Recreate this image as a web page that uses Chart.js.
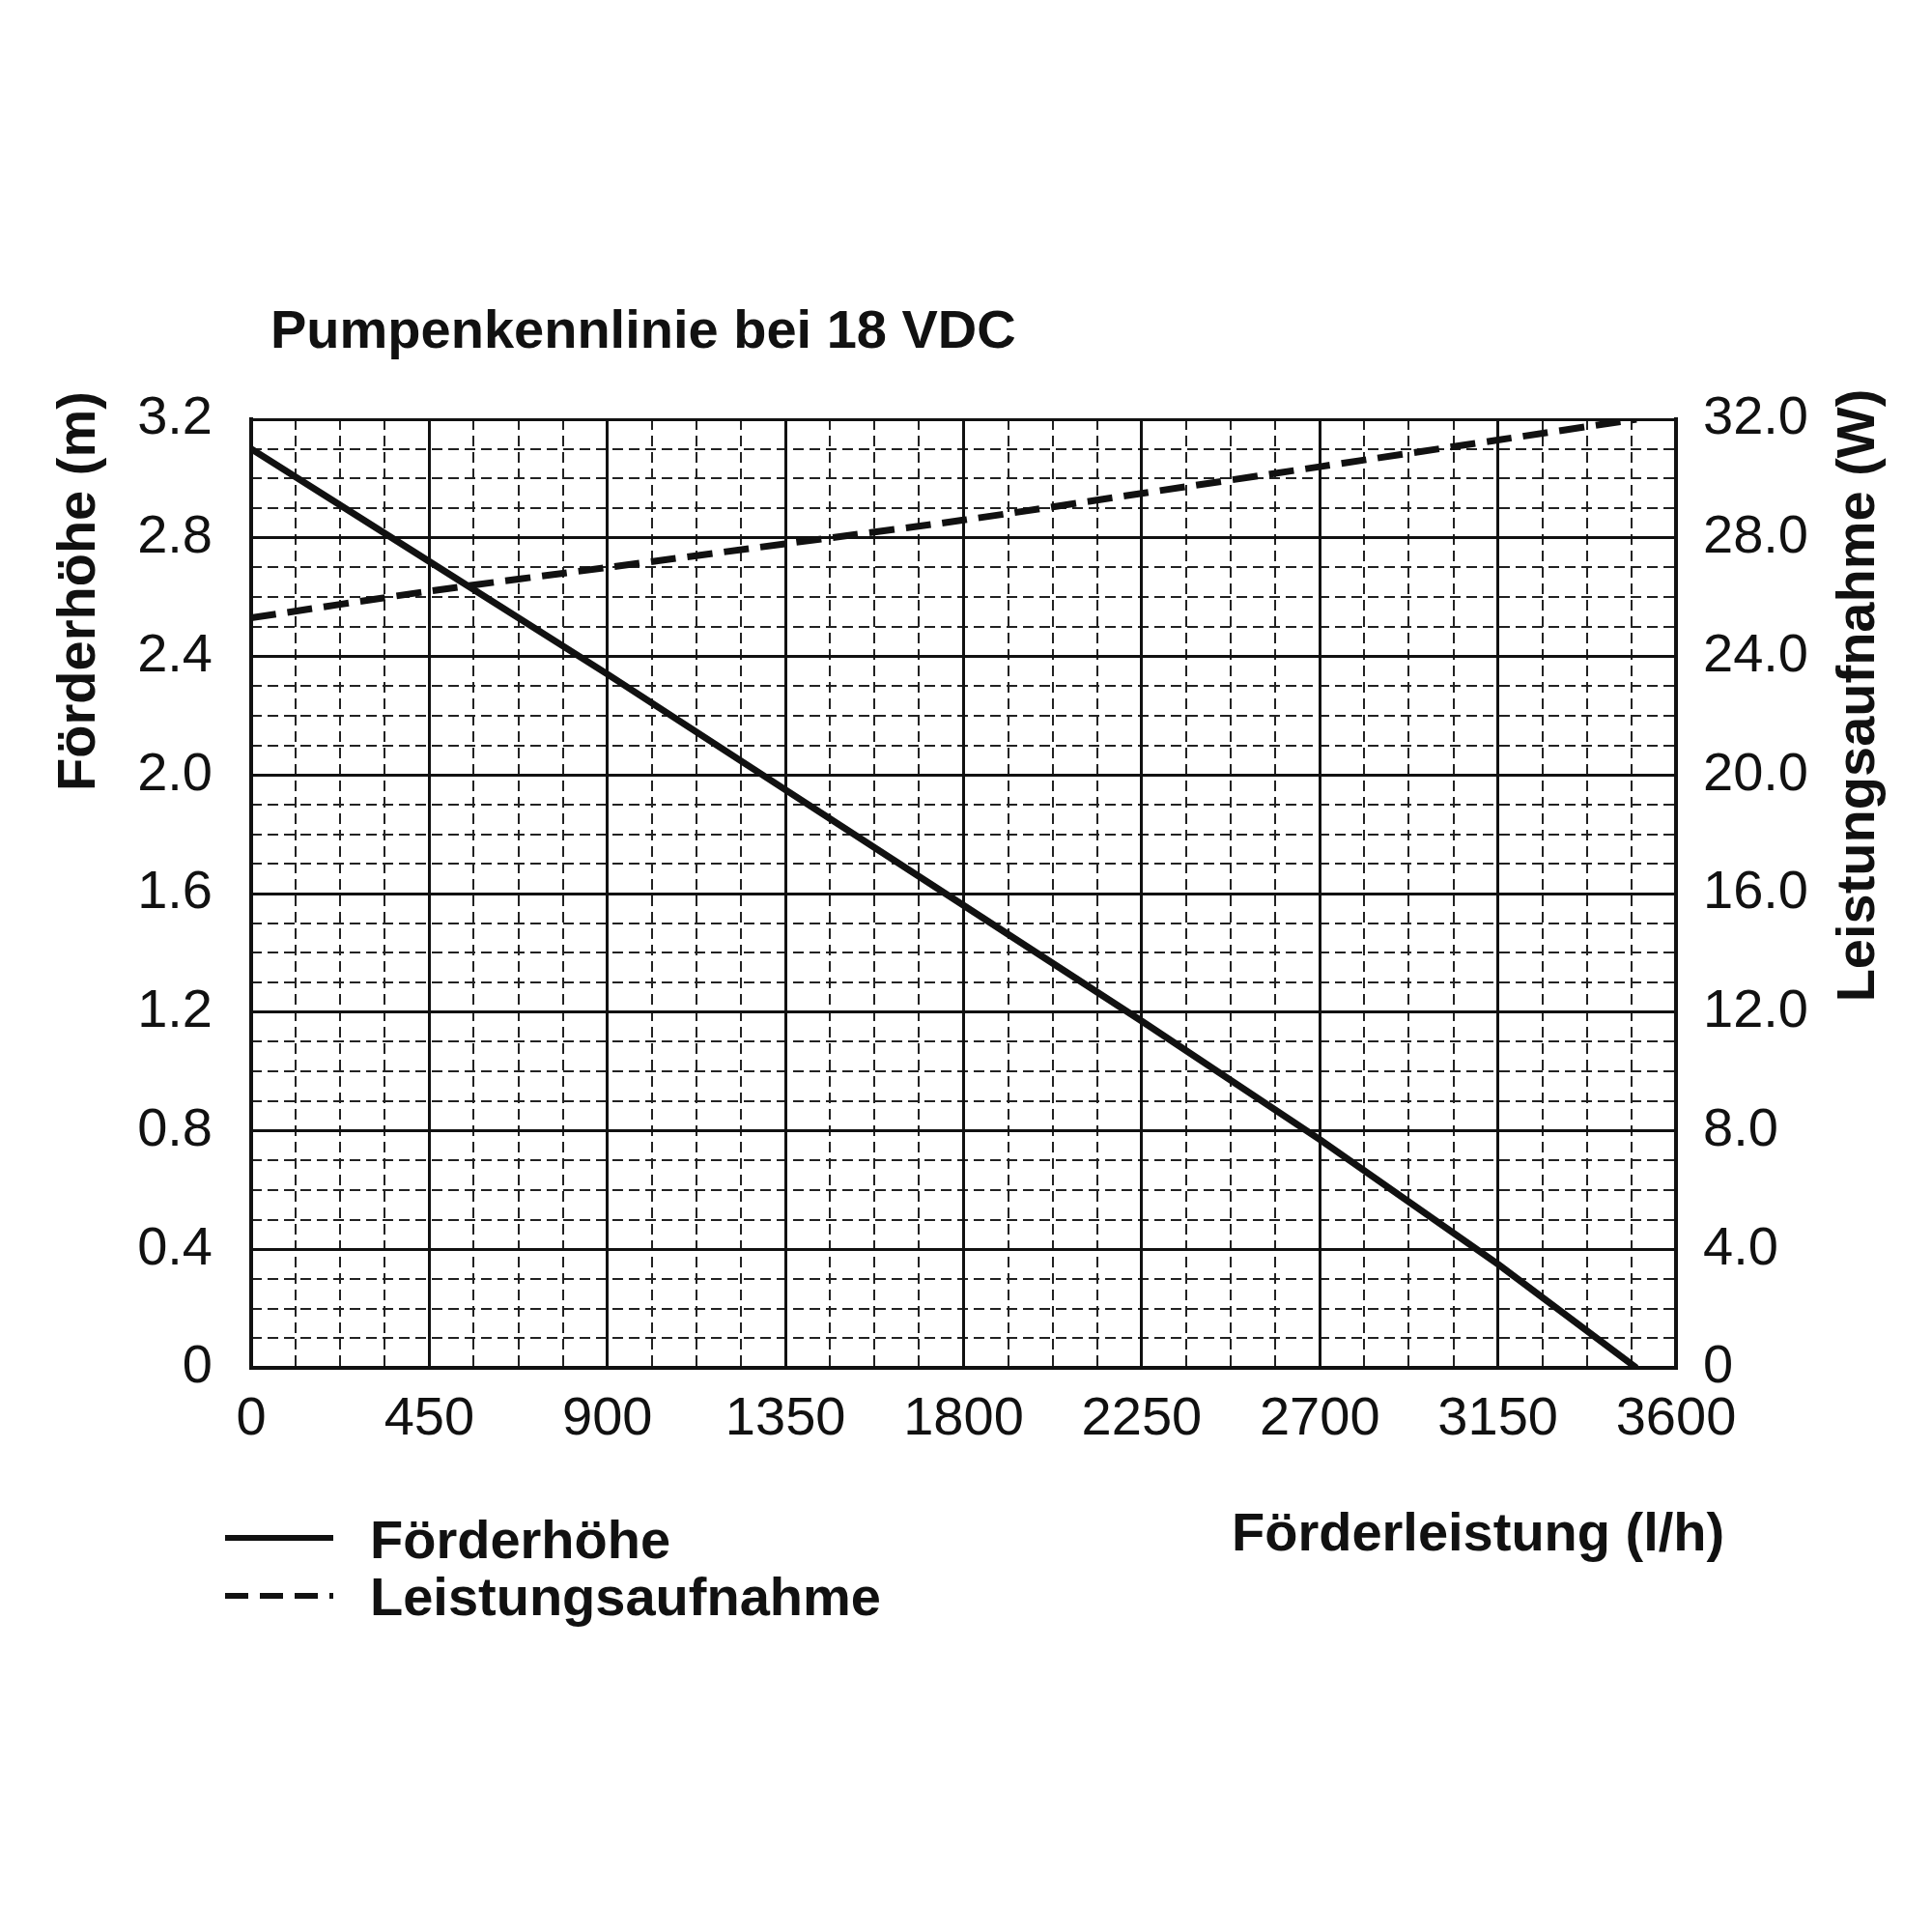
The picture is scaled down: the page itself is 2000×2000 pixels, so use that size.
<!DOCTYPE html>
<html><head><meta charset="utf-8">
<script src="https://cdn.jsdelivr.net/npm/chart.js@4/dist/chart.umd.min.js"></script>
<style>html,body{margin:0;background:#fff}#wrap{width:2000px;height:2000px}</style>
</head><body><div id="wrap"><canvas id="c" width="2000" height="2000"></canvas></div>
<script>
const flowLh = [0, 450, 900, 1350, 1800, 2250, 2700, 3150, 3500];
const headM = [3.1, 2.72, 2.34, 1.95, 1.56, 1.17, 0.77, 0.35, 0];
const powerW = [25.3, 26.2, 27.0, 27.8, 28.6, 29.5, 30.4, 31.3, 32.0];
const xTicks = [0, 450, 900, 1350, 1800, 2250, 2700, 3150, 3600];
const leftTicks = ['0','0.4','0.8','1.2','1.6','2.0','2.4','2.8','3.2'];
const rightTicks = ['0','4.0','8.0','12.0','16.0','20.0','24.0','28.0','32.0'];
const titleText = 'Pumpenkennlinie bei 18 VDC';
const xTitle = 'Förderleistung (l/h)';
const yTitle = 'Förderhöhe (m)';
const y1Title = 'Leistungsaufnahme (W)';
const names = ['Förderhöhe', 'Leistungsaufnahme'];

const F = '"Liberation Sans", Arial, sans-serif';
const textPlugin = {
  id: 'texts',
  afterDraw(chart) {
    const c = chart.ctx;
    c.save();
    c.fillStyle = '#111';
    c.font = 'bold 56px ' + F;
    c.textBaseline = 'middle';
    c.textAlign = 'left';
    c.fillText(titleText, 280, 345);
    c.font = 'bold 56px ' + F;
    c.fillText(xTitle, 1275, 1590);
    c.fillText(names[0], 383, 1598);
    c.fillText(names[1], 383, 1657);
    c.strokeStyle = '#111';
    c.lineWidth = 6;
    c.beginPath(); c.moveTo(233, 1592); c.lineTo(345, 1592); c.stroke();
    c.setLineDash([24, 12]);
    c.beginPath(); c.moveTo(233, 1652); c.lineTo(345, 1652); c.stroke();
    c.setLineDash([]);
    c.save(); c.translate(83, 612); c.rotate(-Math.PI/2); c.textAlign = 'center';
    c.fillText(yTitle, 0, 0); c.restore();
    c.save(); c.translate(1925, 720); c.rotate(-Math.PI/2); c.textAlign = 'center';
    c.fillText(y1Title, 0, 0); c.restore();
    c.restore();
  }
};

new Chart(document.getElementById('c'), {
  type: 'line',
  data: {
    datasets: [
      { label: names[0], data: flowLh.map((x,i)=>({x, y: headM[i]})), yAxisID: 'y', xAxisID: 'x',
        borderColor: '#111', borderWidth: 7, pointRadius: 0, tension: 0 },
      { label: names[1], data: flowLh.map((x,i)=>({x, y: powerW[i]})), yAxisID: 'y1', xAxisID: 'x',
        borderColor: '#111', borderWidth: 7, borderDash: [26, 12], pointRadius: 0, tension: 0.3 }
    ]
  },
  options: {
    responsive: false, animation: false,
    layout: { padding: { top: 434, left: 0, right: 0, bottom: 0 } },
    plugins: { legend: { display: false }, title: { display: false }, tooltip: { enabled: false } },
    scales: {
      xm: { type: 'linear', position: 'bottom', min: 0, max: 3600, ticks: { display: false, stepSize: 112.5 },
        grid: { color: '#222', lineWidth: 2, drawTicks: false }, border: { display: false, dash: [11, 6] },
        afterFit: s => { s.height = 0; } },
      ym: { type: 'linear', position: 'left', min: 0, max: 3.2, ticks: { display: false, stepSize: 0.1 },
        grid: { color: '#222', lineWidth: 2, drawTicks: false }, border: { display: false, dash: [11, 6] },
        afterFit: s => { s.width = 0; } },
      x: { type: 'linear', position: 'bottom', min: 0, max: 3600,
        afterBuildTicks: s => { s.ticks = xTicks.map(v => ({ value: v })); },
        ticks: { color: '#111', font: { family: F, size: 56 }, padding: 20, maxRotation: 0, callback: v => String(v) },
        grid: { color: '#111', lineWidth: 3, drawTicks: false }, border: { color: '#111', width: 4 },
        afterFit: s => { s.height = 584; } },
      y: { type: 'linear', position: 'left', min: 0, max: 3.2,
        afterBuildTicks: s => { s.ticks = leftTicks.map((t,i) => ({ value: i * 0.4 })); },
        ticks: { color: '#111', font: { family: F, size: 56 }, padding: 40, callback: (v, i) => leftTicks[i] },
        grid: { color: '#111', lineWidth: 3, drawTicks: false }, border: { color: '#111', width: 4 },
        afterFit: s => { s.width = 260; } },
      y1: { type: 'linear', position: 'right', min: 0, max: 32,
        afterBuildTicks: s => { s.ticks = rightTicks.map((t,i) => ({ value: i * 4 })); },
        ticks: { color: '#111', font: { family: F, size: 56 }, padding: 28, callback: (v, i) => rightTicks[i] },
        grid: { display: false, drawTicks: false }, border: { color: '#111', width: 4 },
        afterFit: s => { s.width = 265; } }
    }
  },
  plugins: [textPlugin]
});
</script></body></html>
